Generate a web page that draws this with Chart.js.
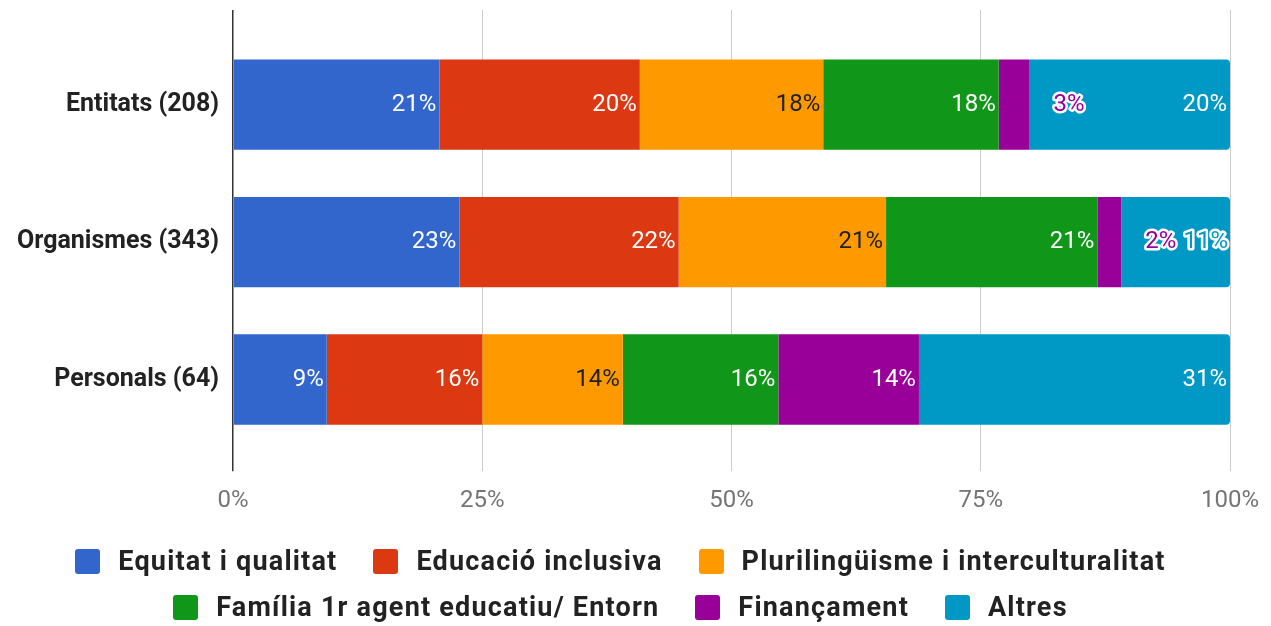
<!DOCTYPE html>
<html><head><meta charset="utf-8">
<script src="https://cdn.jsdelivr.net/npm/chart.js@4"></script>
<style>
html,body{margin:0;padding:0;background:#fff;}
#wrap{position:relative;width:1271px;height:626px;overflow:hidden;}
#c{position:absolute;left:0;top:0;}
#legend{position:absolute;left:-15px;top:538px;width:1271px;display:flex;flex-wrap:wrap;justify-content:center;font-family:Roboto;font-weight:700;font-size:27px;letter-spacing:1.2px;color:#222;}
.li{display:flex;align-items:center;height:46px;margin:0 18px;}
.sw{width:25px;height:25px;border-radius:3px;margin-right:18px;}
</style></head>
<body>
<div id="wrap"><canvas id="c" width="1271" height="626"></canvas><div id="legend"></div></div>
<script>
const categories = ['Entitats (208)', 'Organismes (343)', 'Personals (64)'];
const seriesNames = ['Equitat i qualitat', 'Educació inclusiva', 'Plurilingüisme i interculturalitat', 'Família 1r agent educatiu/ Entorn', 'Finançament', 'Altres'];
const equitat = [20.7, 22.7, 9.4];
const inclusiva = [20.1, 22.0, 15.6];
const plurilinguisme = [18.4, 20.8, 14.1];
const familia = [17.6, 21.2, 15.6];
const financament = [3.1, 2.4, 14.1];
const altres = [20.1, 10.9, 31.2];
const tickValues = [0, 25, 50, 75, 100];
const colors = ['#3366CC', '#DC3912', '#FF9900', '#109618', '#990099', '#0099C6'];
const labelColors = ['#fff', '#fff', '#222', '#fff', '#fff', '#fff'];
const seriesValues = [equitat, inclusiva, plurilinguisme, familia, financament, altres];

const FONT = 'Roboto';

const datasets = seriesValues.map((vals, i) => ({
  label: seriesNames[i],
  data: vals,
  backgroundColor: colors[i],
  borderWidth: 0,
  barPercentage: 1,
  categoryPercentage: 0.657,
  borderSkipped: i === 5 ? 'start' : true,
  borderRadius: i === 5 ? 4 : 0
}));

const labelPlugin = {
  id: 'segLabels',
  afterDatasetsDraw(chart) {
    const ctx = chart.ctx;
    ctx.save();
    ctx.font = '24px ' + FONT;
    ctx.textBaseline = 'middle';
    ctx.lineJoin = 'round';
    for (let i = 0; i < categories.length; i++) {
      let prevOutsideEnd = -Infinity;
      chart.data.datasets.forEach((ds, d) => {
        const el = chart.getDatasetMeta(d).data[i];
        const txt = Math.round(ds.data[i]) + '%';
        const w = ctx.measureText(txt).width;
        const segW = el.x - el.base;
        if (w + 8 <= segW && (el.x - 3 - w) > prevOutsideEnd + 20) {
          ctx.textAlign = 'right';
          ctx.fillStyle = labelColors[d];
          ctx.fillText(txt, el.x - 3, el.y);
        } else if (w + 8 > segW) {
          const lx = el.x + 24;
          ctx.textAlign = 'left';
          ctx.strokeStyle = '#fff';
          ctx.lineWidth = 5;
          ctx.strokeText(txt, lx, el.y);
          ctx.fillStyle = colors[d];
          ctx.fillText(txt, lx, el.y);
          prevOutsideEnd = lx + w;
        } else {
          ctx.textAlign = 'right';
          ctx.strokeStyle = '#fff';
          ctx.lineWidth = 5;
          ctx.strokeText(txt, el.x - 2, el.y);
          ctx.fillStyle = colors[d];
          ctx.fillText(txt, el.x - 2, el.y);
        }
      });
    }
    ctx.restore();
  }
};

const isZero = (c) => c.tick && c.tick.value === 0;
const gridColor = (c) => isZero(c) ? '#333' : '#cccccc';
const gridWidth = (c) => isZero(c) ? 1.5 : 1;

new Chart(document.getElementById('c'), {
  type: 'bar',
  data: { labels: categories, datasets },
  options: {
    indexAxis: 'y',
    responsive: false,
    animation: false,
    layout: { padding: { left: 3, right: 30, top: 10, bottom: 96 } },
    plugins: { legend: { display: false }, tooltip: { enabled: false } },
    scales: {
      x: {
        stacked: true, min: 0, max: 100,
        afterBuildTicks: (s) => { s.ticks = tickValues.map(v => ({ value: v })); },
        afterFit: (s) => { s.paddingRight = 41; },
        grid: { color: gridColor, tickColor: gridColor, lineWidth: gridWidth, tickLength: 23, drawTicks: true },
        border: { display: false },
        ticks: { callback: (v) => v + '%', color: '#757575', font: { family: FONT, size: 24 }, padding: 15, maxRotation: 0 }
      },
      xTop: {
        type: 'linear', position: 'top', axis: 'x', min: 0, max: 100,
        afterBuildTicks: (s) => { s.ticks = tickValues.map(v => ({ value: v })); },
        grid: { color: gridColor, tickColor: gridColor, lineWidth: gridWidth, tickLength: 26, drawTicks: true, drawOnChartArea: false },
        border: { display: false },
        ticks: { display: false }
      },
      y: {
        stacked: true,
        grid: { display: false, drawTicks: false },
        border: { display: false },
        ticks: { color: '#222', font: { family: FONT, size: 25, weight: '700' }, padding: 14 }
      }
    }
  },
  plugins: [labelPlugin]
});

const lg = document.getElementById('legend');
seriesNames.forEach((n, i) => {
  const it = document.createElement('div'); it.className = 'li';
  const sw = document.createElement('div'); sw.className = 'sw'; sw.style.background = colors[i];
  const t = document.createElement('span'); t.textContent = n;
  it.appendChild(sw); it.appendChild(t); lg.appendChild(it);
});
</script>
</body></html>
